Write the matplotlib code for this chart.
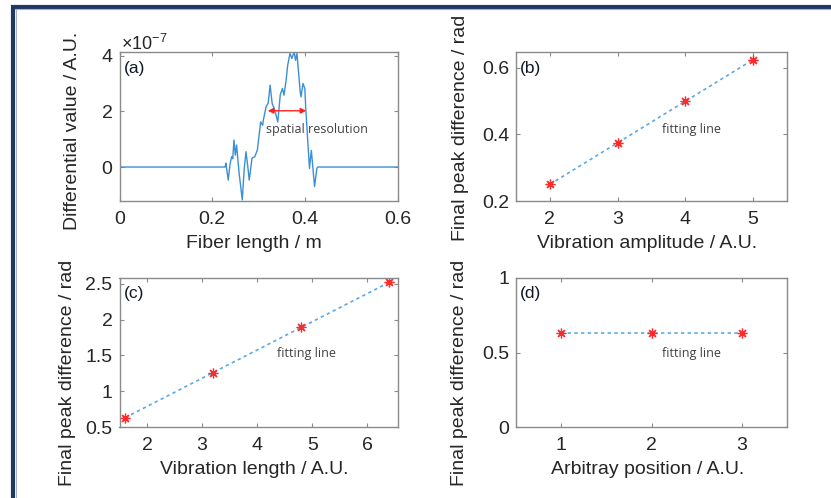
import matplotlib
matplotlib.use("Agg")
import matplotlib.pyplot as plt
from matplotlib.lines import Line2D
import numpy as np

plt.rcParams['font.family'] = ['Liberation Sans', 'DejaVu Sans']
plt.rcParams['mathtext.fontset'] = 'custom'
plt.rcParams['mathtext.rm'] = 'Liberation Sans'
plt.rcParams['mathtext.it'] = 'Liberation Sans:italic'

# ---------------- data ----------------
# (a) differential signal, values in units of 1e-7
fiber_x = [0.0, 0.228, 0.2296, 0.2346, 0.2385, 0.242, 0.2445, 0.247, 0.250, 0.2527,
           0.258, 0.265, 0.269, 0.273, 0.277, 0.280, 0.286, 0.292, 0.2975, 0.3047,
           0.309, 0.3104, 0.3163, 0.321, 0.325, 0.3295, 0.334, 0.3416, 0.347, 0.3517,
           0.355, 0.3596, 0.363, 0.368, 0.372, 0.377, 0.380, 0.383, 0.390, 0.3917,
           0.396, 0.400, 0.4022, 0.410, 0.414, 0.421, 0.426, 0.428, 0.6]
signal_e7 = [0.0, 0.0, 0.14, -0.47, 0.1, 0.37, 0.3, 0.97, 0.43, 0.79,
             -0.2, -1.18, -0.1, 0.55, 0.0, -0.47, 0.32, 0.37, 0.61, 1.62,
             1.5, 1.68, 2.16, 2.3, 2.94, 2.28, 2.1, 1.62, 2.6, 2.82,
             2.58, 3.12, 3.66, 4.08, 3.9, 4.13, 3.83, 4.08, 2.7, 2.52,
             3.0, 2.82, 2.04, -0.05, 0.6, -0.7, -0.05, 0.0, 0.0]
res_start, res_end, res_level = 0.32, 0.403, 2.02

# (b)
amp_x = [2, 3, 4, 5]
amp_y = [0.25, 0.375, 0.50, 0.625]
# (c)
len_x = [1.6, 3.2, 4.8, 6.4]
len_y = [0.63, 1.26, 1.89, 2.52]
# (d)
pos_x = [1, 2, 3]
pos_y = [0.63, 0.63, 0.63]

W, H = 831, 498
fig = plt.figure(figsize=(W / 100, H / 100), dpi=100)
fig.patch.set_facecolor('white')

def frac(l, t, r, b):
    return [l / W, 1 - b / H, (r - l) / W, (b - t) / H]

axA = fig.add_axes(frac(119.5, 52, 397.5, 201))
axB = fig.add_axes(frac(516, 52, 787, 201))
axC = fig.add_axes(frac(119.5, 278, 397.5, 427))
axD = fig.add_axes(frac(516, 278, 787, 427))

TXT = '#262626'
SP = '#8a8a8a'
LINE = '#3b8fd6'
FIT = '#5aaae6'
MK = '#ff2a2a'

def style(ax):
    for s in ax.spines.values():
        s.set_color(SP)
        s.set_linewidth(1.0)
    ax.tick_params(direction='in', length=3, width=0.8, color=SP,
                   labelsize=14, labelcolor=TXT, top=True, right=True)
    ax.tick_params(axis='x', pad=7)
    ax.tick_params(axis='y', pad=5)

# (a)
axA.plot(fiber_x, signal_e7, color=LINE, lw=1.0)
axA.set_xlim(0, 0.6)
axA.set_ylim(min(signal_e7) - 0.04, max(signal_e7))
axA.set_xticks([0, 0.2, 0.4, 0.6])
axA.set_xticklabels(['0', '0.2', '0.4', '0.6'])
axA.set_yticks([0, 2, 4])
axA.set_yticklabels(['0', '2', '4'])
axA.annotate('', xy=(res_start, res_level), xytext=(res_end, res_level),
             arrowprops=dict(arrowstyle='<|-|>', color='#ff2020', lw=1.0,
                             mutation_scale=8, shrinkA=0, shrinkB=0))
axA.text(0.316, 1.36, 'spatial resolution', family=['Open Sans', 'DejaVu Sans'],
         fontsize=9, color='#404040', ha='left', va='center')
axA.text(0.005, 0.985, r'$\times\mathrm{10}^{\mathrm{-7}}$', transform=axA.transAxes,
         fontsize=13, color=TXT, ha='left', va='bottom')

# (b)
axB.plot(amp_x, amp_y, color=FIT, lw=1.2, ls=(0, (2.0, 2.0)))
axB.plot(amp_x, amp_y, ls='none', marker=(8, 2, 0), ms=7, mew=0.9, color=MK)
axB.set_xlim(1.5, 5.5)
axB.set_ylim(0.2, 0.648)
axB.set_xticks([2, 3, 4, 5])
axB.set_yticks([0.2, 0.4, 0.6])
axB.set_yticklabels(['0.2', '0.4', '0.6'])
axB.text(3.66, 0.415, 'fitting line', family=['Open Sans', 'DejaVu Sans'],
         fontsize=9, color='#404040', ha='left', va='center')

# (c)
axC.plot(len_x, len_y, color=FIT, lw=1.2, ls=(0, (2.0, 2.0)))
axC.plot(len_x, len_y, ls='none', marker=(8, 2, 0), ms=7, mew=0.9, color=MK)
axC.set_xlim(1.5, 6.55)
axC.set_ylim(0.5, 2.58)
axC.set_xticks([2, 3, 4, 5, 6])
axC.set_yticks([0.5, 1, 1.5, 2, 2.5])
axC.set_yticklabels(['0.5', '1', '1.5', '2', '2.5'])
axC.text(4.36, 1.53, 'fitting line', family=['Open Sans', 'DejaVu Sans'],
         fontsize=9, color='#404040', ha='left', va='center')

# (d)
axD.plot(pos_x, pos_y, color=FIT, lw=1.2, ls=(0, (2.0, 2.0)))
axD.plot(pos_x, pos_y, ls='none', marker=(8, 2, 0), ms=7, mew=0.9, color=MK)
axD.set_xlim(0.5, 3.5)
axD.set_ylim(0, 1)
axD.set_xticks([1, 2, 3])
axD.set_yticks([0, 0.5, 1])
axD.set_yticklabels(['0', '0.5', '1'])
axD.text(2.12, 0.495, 'fitting line', family=['Open Sans', 'DejaVu Sans'],
         fontsize=9, color='#404040', ha='left', va='center')

for ax in (axA, axB, axC, axD):
    style(ax)

# panel letters
for ax, lab, yy in ((axA, '(a)', 0.886), (axB, '(b)', 0.886),
                    (axC, '(c)', 0.897), (axD, '(d)', 0.897)):
    ax.text(0.015, yy, lab, transform=ax.transAxes, fontsize=12.5,
            color='#101828', ha='left', va='center')

# axis labels
def labels(ax, xl, yl, ycx, ycy, xcy):
    ax.set_xlabel(xl, fontsize=14, color=TXT)
    ax.xaxis.set_label_coords(0.485, xcy)
    ax.set_ylabel(yl, fontsize=14, color=TXT)
    ax.yaxis.set_label_coords(ycx, ycy)

labels(axA, 'Fiber length / m', 'Differential value / A.U.', -0.137, 0.47, -0.225)
labels(axB, 'Vibration amplitude / A.U.', 'Final peak difference / rad', -0.172, 0.49, -0.225)
labels(axC, 'Vibration length / A.U.', 'Final peak difference / rad', -0.155, 0.36, -0.225)
labels(axD, 'Arbitray position / A.U.', 'Final peak difference / rad', -0.178, 0.36, -0.225)

# frame border (top and left)
NAVY = '#1f3864'
fig.add_artist(Line2D([11 / W, 1.0], [1 - 7 / H, 1 - 7 / H], color=NAVY, lw=3.0,
                      transform=fig.transFigure, solid_capstyle='butt'))
fig.add_artist(Line2D([13 / W, 13 / W], [1 - 5 / H, 0.0], color=NAVY, lw=3.0,
                      transform=fig.transFigure, solid_capstyle='butt'))
fig.add_artist(Line2D([15 / W, 1.0], [1 - 9.5 / H, 1 - 9.5 / H], color='#a8b2c6', lw=0.8,
                      transform=fig.transFigure))
fig.add_artist(Line2D([15.5 / W, 15.5 / W], [1 - 9 / H, 0.0], color='#a8b2c6', lw=0.8,
                      transform=fig.transFigure))

fig.savefig('out.png', dpi=100)
